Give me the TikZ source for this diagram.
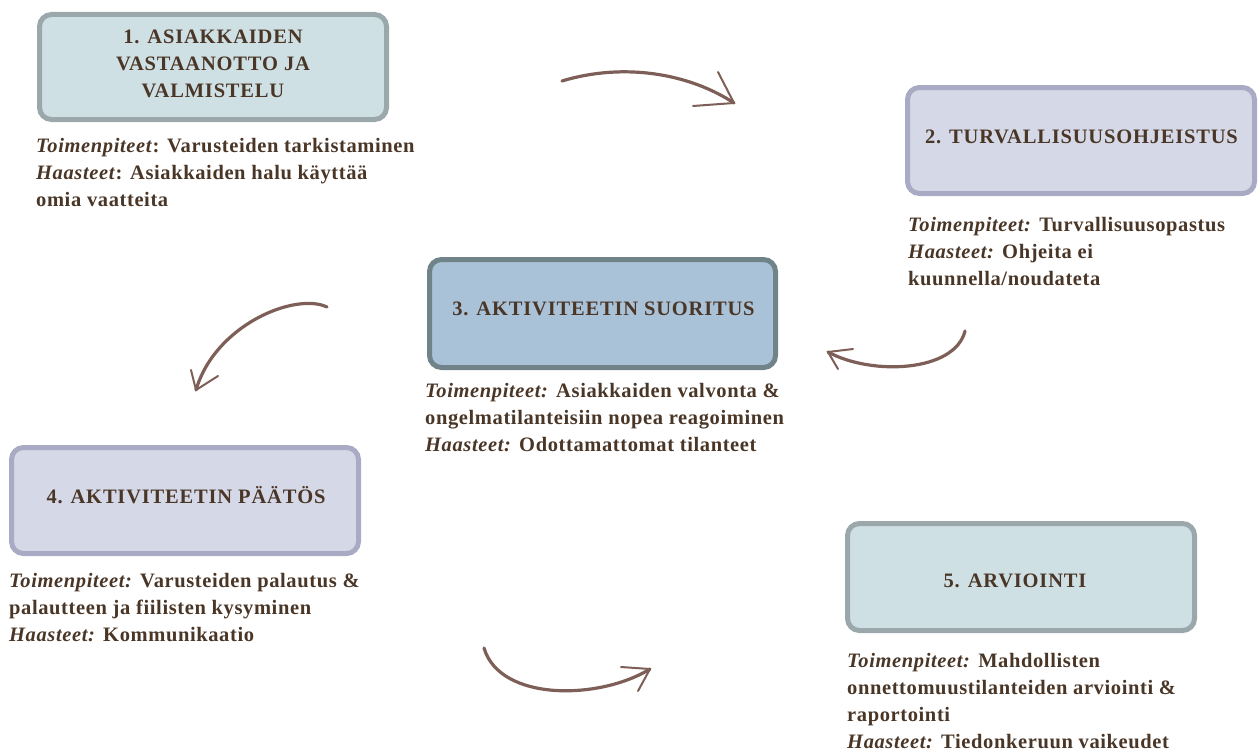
\documentclass[tikz,border=0pt]{standalone}
\usepackage{fontspec}
\setmainfont{Liberation Serif}
\definecolor{txt}{HTML}{4A3627}
\definecolor{arr}{HTML}{7E5F57}
\definecolor{fillA}{HTML}{CFE0E5}
\definecolor{edgeA}{HTML}{9AA8AC}
\definecolor{fillB}{HTML}{D5D8E6}
\definecolor{edgeB}{HTML}{A9AAC3}
\definecolor{fillC}{HTML}{A9C2D8}
\definecolor{edgeC}{HTML}{6F8389}
\begin{document}
\begin{tikzpicture}[x=1pt,y=-1pt,
  box/.style={rectangle, rounded corners=12pt, line width=5pt, minimum width=347pt, inner sep=0pt},
  boxA/.style={box, fill=fillA, draw=edgeA},
  boxB/.style={box, fill=fillB, draw=edgeB},
  boxC/.style={box, fill=fillC, draw=edgeC},
  head/.style={text=txt, font=\fontsize{20.5}{27}\selectfont\bfseries\addfontfeature{LetterSpace=4}, inner sep=0pt, align=center},
  body/.style={text=txt, font=\fontsize{20.5}{27}\selectfont\bfseries\addfontfeature{LetterSpace=3}, inner sep=0pt, align=left, anchor=north west},
  curve/.style={draw=arr, line width=3.2pt, line cap=round, line join=round},
  tip/.style={draw=arr, line width=2pt, line cap=round, line join=round}
]
\useasboundingbox (0,0) rectangle (1258,752);

% boxes
\node[boxA, minimum height=105pt] (b1) at (213,67) {};
\node[boxB, minimum height=106pt] (b2) at (1081,140.5) {};
\node[boxC, minimum width=346pt, minimum height=108pt] (b3) at (602.5,313.5) {};
\node[boxB, minimum height=106pt] (b4) at (185,500.5) {};
\node[boxA, minimum height=107pt] (b5) at (1021,577) {};

% headings
\node[head, anchor=north] (h1) at (213,30) {1. ASIAKKAIDEN\\VASTAANOTTO JA\\VALMISTELU};
\node[head, anchor=base] (h2) at (1081.5,143) {2. TURVALLISUUSOHJEISTUS};
\node[head, anchor=base] (h3) at (603.5,315) {3. AKTIVITEETIN SUORITUS};
\node[head, anchor=base] (h4) at (186,503) {4. AKTIVITEETIN PÄÄTÖS};
\node[head, anchor=base] (h5) at (1015,587) {5. ARVIOINTI};

% descriptions
\node[body] (t1) at (36,138) {\textit{Toimenpiteet}: Varusteiden tarkistaminen\\\textit{Haasteet}: Asiakkaiden halu käyttää\\omia vaatteita};
\node[body] (t2) at (908,217) {\textit{Toimenpiteet:} Turvallisuusopastus\\\textit{Haasteet:} Ohjeita ei\\kuunnella/noudateta};
\node[body] (t3) at (425,383) {\textit{Toimenpiteet:} Asiakkaiden valvonta \&\\ongelmatilanteisiin nopea reagoiminen\\\textit{Haasteet:} Odottamattomat tilanteet};
\node[body] (t4) at (9,573) {\textit{Toimenpiteet:} Varusteiden palautus \&\\palautteen ja fiilisten kysyminen\\\textit{Haasteet:} Kommunikaatio};
\node[body] (t5) at (847,653) {\textit{Toimenpiteet:} Mahdollisten\\onnettomuustilanteiden arviointi \&\\raportointi\\\textit{Haasteet:} Tiedonkeruun vaikeudet};

% arrows
\coordinate (a1s) at (562,81);
\coordinate (a1t) at (734,103);
\draw[curve] (a1s) .. controls (625,62) and (690,74) .. (a1t);
\draw[tip] (718,72) -- (a1t) -- (693,106);

\coordinate (a2s) at (327,307);
\coordinate (a2t) at (196,390);
\draw[curve] (a2s) .. controls (295,292) and (215,325) .. (a2t);
\draw[tip] (191,370) -- (a2t) -- (218,376);

\coordinate (a3s) at (965,331);
\coordinate (a3t) at (828,352);
\draw[curve] (a3s) .. controls (955,372) and (872,376) .. (a3t);
\draw[tip] (853,349) -- (a3t) -- (838,369);

\coordinate (a4s) at (484,648);
\coordinate (a4t) at (650,669);
\draw[curve] (a4s) .. controls (500,702) and (600,700) .. (a4t);
\draw[tip] (621,667) -- (a4t) -- (638,691);
\end{tikzpicture}
\end{document}
